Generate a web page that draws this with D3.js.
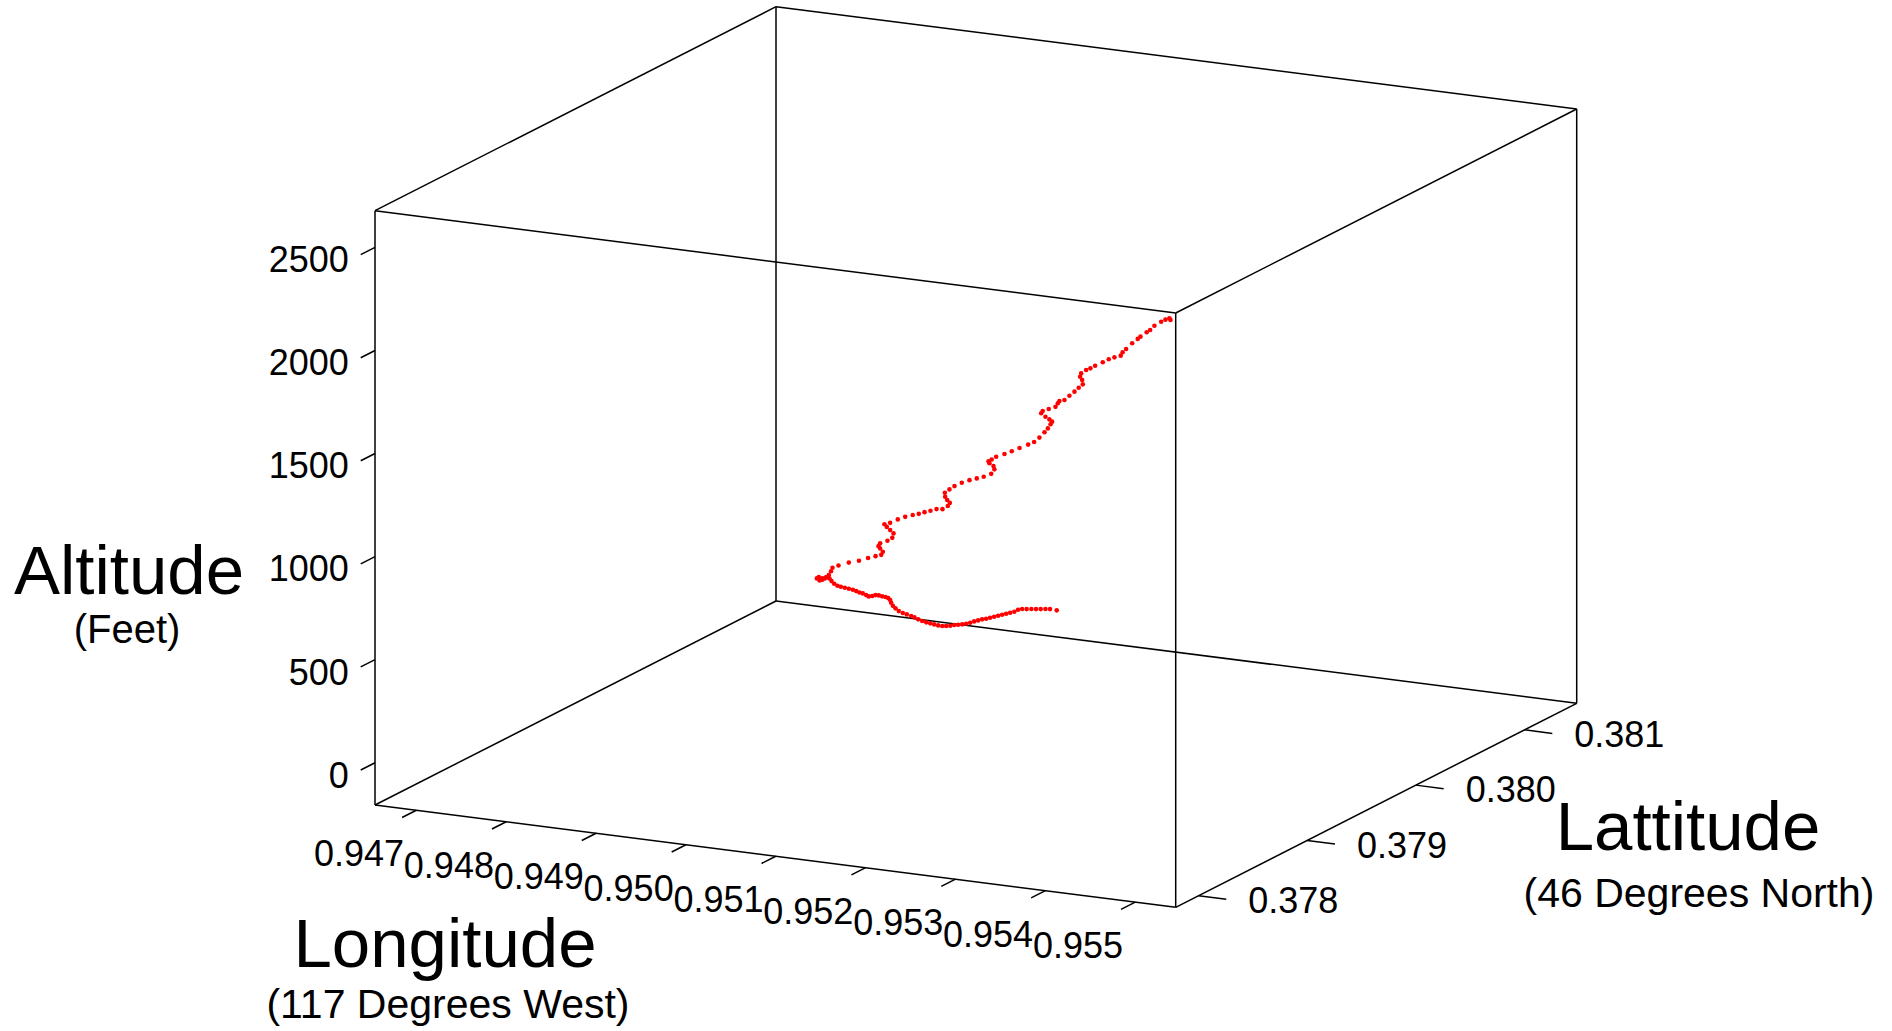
<!DOCTYPE html>
<html>
<head>
<meta charset="utf-8">
<script src="https://cdn.jsdelivr.net/npm/d3@7"></script>
<style>
  html, body { margin: 0; padding: 0; background: #fff; }
  svg { display: block; font-family: 'Liberation Sans', Arial, Helvetica, sans-serif; }
</style>
</head>
<body>
<div id="chart"></div>
<script>
// axis ranges and ticks
const lonDomain = [0.94654, 0.95545];
const latDomain = [0.37779, 0.38148];
const altDomain = [-205, 2678];

const lonTicks = [0.947, 0.948, 0.949, 0.950, 0.951, 0.952, 0.953, 0.954, 0.955];
const latTicks = [0.378, 0.379, 0.380, 0.381];
const altTicks = [0, 500, 1000, 1500, 2000, 2500];

// ground roll (fractional degrees, feet)
const groundLon = [0.952462, 0.952380, 0.952339, 0.952297, 0.952256, 0.952214, 0.952172, 0.952132, 0.952108, 0.952110,
  0.952090, 0.952072, 0.952054, 0.952035, 0.952017, 0.951999, 0.951981, 0.951956, 0.951938, 0.951920,
  0.951909, 0.951891, 0.951866, 0.951837, 0.951807, 0.951784, 0.951753, 0.951718, 0.951670, 0.951617,
  0.951564, 0.951511, 0.951453, 0.951387, 0.951319, 0.951267, 0.951199, 0.951140, 0.951070, 0.950993,
  0.950924, 0.950857, 0.950801, 0.950749, 0.950707, 0.950665, 0.950618, 0.950583, 0.950571, 0.950546,
  0.950500, 0.950441, 0.950394, 0.950342, 0.950289, 0.950236, 0.950183, 0.950130, 0.950083, 0.950019,
  0.949948, 0.949883, 0.949842, 0.949841, 0.949842, 0.949829, 0.949770, 0.949765, 0.949818, 0.949831, 0.949819];
const groundLat = [0.379166, 0.379172, 0.379164, 0.379155, 0.379146, 0.379138, 0.379129, 0.379121, 0.379103, 0.379067,
  0.379045, 0.379023, 0.379001, 0.378980, 0.378958, 0.378936, 0.378914, 0.378898, 0.378876, 0.378854,
  0.378827, 0.378805, 0.378789, 0.378776, 0.378764, 0.378747, 0.378735, 0.378728, 0.378730, 0.378737,
  0.378745, 0.378752, 0.378763, 0.378780, 0.378802, 0.378815, 0.378831, 0.378843, 0.378864, 0.378897,
  0.378930, 0.378970, 0.379007, 0.379032, 0.379042, 0.379046, 0.379054, 0.379052, 0.379032, 0.379021,
  0.379035, 0.379053, 0.379061, 0.379074, 0.379087, 0.379094, 0.379101, 0.379108, 0.379116, 0.379139,
  0.379173, 0.379208, 0.379223, 0.379199, 0.379175, 0.379161, 0.379185, 0.379207, 0.379195, 0.379221, 0.379255];
const groundAlt = [700, 700, 700, 700, 700, 700, 700, 700, 700, 700,
  700, 700, 700, 700, 700, 700, 700, 700, 700, 700,
  700, 700, 700, 700, 700, 700, 700, 700, 700, 700,
  700, 700, 700, 700, 700, 700, 700, 700, 700, 700,
  700, 700, 700, 700, 700, 700, 700, 700, 700, 700,
  700, 700, 700, 700, 700, 700, 700, 700, 700, 700,
  700, 700, 700, 700, 700, 700, 700, 700, 700, 700, 700];

// climb out
const climbLon = [0.949734, 0.949758, 0.949851, 0.950012, 0.950171, 0.950312, 0.950429, 0.950518, 0.950543, 0.950502,
  0.950476, 0.950502, 0.950616, 0.950690, 0.950710, 0.950658, 0.950605, 0.950569, 0.950658, 0.950777,
  0.950892, 0.951011, 0.951105, 0.951194, 0.951287, 0.951381, 0.951475, 0.951557, 0.951589, 0.951548,
  0.951517, 0.951511, 0.951584, 0.951662, 0.951776, 0.951896, 0.952010, 0.952119, 0.952235, 0.952286,
  0.952271, 0.952208, 0.952193, 0.952244, 0.952313, 0.952443, 0.952557, 0.952677, 0.952813, 0.952906,
  0.952989, 0.953067, 0.953119, 0.953161, 0.953187, 0.953145, 0.953083, 0.953016, 0.953040, 0.953134,
  0.953239, 0.953275, 0.953301, 0.953379, 0.953457, 0.953535, 0.953602, 0.953665, 0.953656, 0.953624,
  0.953640, 0.953718, 0.953785, 0.953858, 0.953977, 0.954071, 0.954160, 0.954258, 0.954289, 0.954342,
  0.954436, 0.954523, 0.954566, 0.954664, 0.954717, 0.954784, 0.954889, 0.954956, 0.955018, 0.955034];
const climbLat = [0.379345, 0.379339, 0.379317, 0.379279, 0.379241, 0.379208, 0.379180, 0.379159, 0.379153, 0.379162,
  0.379169, 0.379162, 0.379135, 0.379118, 0.379113, 0.379125, 0.379138, 0.379146, 0.379125, 0.379097,
  0.379070, 0.379041, 0.379019, 0.378998, 0.378976, 0.378954, 0.378931, 0.378912, 0.378904, 0.378914,
  0.378921, 0.378923, 0.378905, 0.378887, 0.378860, 0.378831, 0.378804, 0.378778, 0.378751, 0.378738,
  0.378742, 0.378757, 0.378761, 0.378748, 0.378732, 0.378701, 0.378674, 0.378646, 0.378613, 0.378591,
  0.378571, 0.378553, 0.378541, 0.378531, 0.378524, 0.378534, 0.378549, 0.378565, 0.378559, 0.378537,
  0.378512, 0.378504, 0.378497, 0.378479, 0.378460, 0.378442, 0.378426, 0.378411, 0.378413, 0.378420,
  0.378417, 0.378398, 0.378382, 0.378365, 0.378337, 0.378314, 0.378293, 0.378270, 0.378262, 0.378250,
  0.378228, 0.378207, 0.378197, 0.378173, 0.378161, 0.378145, 0.378120, 0.378104, 0.378089, 0.378086];
const climbAlt = [690, 710, 732, 765, 793, 823, 846, 863, 881, 892,
  900, 917, 943, 966, 990, 1000, 1009, 1018, 1035, 1066,
  1092, 1115, 1132, 1151, 1169, 1188, 1199, 1224, 1243, 1252,
  1264, 1283, 1308, 1333, 1363, 1390, 1412, 1433, 1461, 1489,
  1503, 1509, 1517, 1532, 1553, 1582, 1609, 1639, 1672, 1696,
  1727, 1762, 1787, 1812, 1828, 1834, 1839, 1848, 1862, 1883,
  1906, 1927, 1942, 1956, 1986, 2015, 2042, 2066, 2086, 2098,
  2116, 2142, 2158, 2179, 2210, 2236, 2256, 2276, 2296, 2318,
  2357, 2389, 2405, 2438, 2455, 2484, 2516, 2534, 2548, 2542];

const width = 1892;
const height = 1031;

// oblique box: origin is (lon min, lat min, alt min), one screen vector per axis
const origin = { x: 375, y: 805 };
const vLon = { x: 800.7, y: 102.3 };
const vLat = { x: 401, y: -204 };
const vAlt = { x: 0, y: -594.3 };

const lonScale = d3.scaleLinear().domain(lonDomain).range([0, 1]);
const latScale = d3.scaleLinear().domain(latDomain).range([0, 1]);
const altScale = d3.scaleLinear().domain(altDomain).range([0, 1]);

function project(lon, lat, alt) {
  const a = lonScale(lon), b = latScale(lat), c = altScale(alt);
  return [
    origin.x + a * vLon.x + b * vLat.x + c * vAlt.x,
    origin.y + a * vLon.y + b * vLat.y + c * vAlt.y
  ];
}

function unit(v, len) {
  const l = Math.hypot(v.x, v.y);
  return { x: v.x / l * len, y: v.y / l * len };
}

const svg = d3.select('#chart')
  .append('svg')
  .attr('width', width)
  .attr('height', height);

svg.append('rect')
  .attr('width', width)
  .attr('height', height)
  .attr('fill', '#fff');

// box edges
const [lo0, lo1] = lonDomain, [la0, la1] = latDomain, [al0, al1] = altDomain;
const edges = [
  [[lo0, la0, al0], [lo1, la0, al0]], [[lo0, la1, al0], [lo1, la1, al0]],
  [[lo0, la0, al1], [lo1, la0, al1]], [[lo0, la1, al1], [lo1, la1, al1]],
  [[lo0, la0, al0], [lo0, la1, al0]], [[lo1, la0, al0], [lo1, la1, al0]],
  [[lo0, la0, al1], [lo0, la1, al1]], [[lo1, la0, al1], [lo1, la1, al1]],
  [[lo0, la0, al0], [lo0, la0, al1]], [[lo1, la0, al0], [lo1, la0, al1]],
  [[lo0, la1, al0], [lo0, la1, al1]], [[lo1, la1, al0], [lo1, la1, al1]]
];

svg.append('g')
  .selectAll('line')
  .data(edges)
  .enter()
  .append('line')
  .attr('x1', d => project(...d[0])[0])
  .attr('y1', d => project(...d[0])[1])
  .attr('x2', d => project(...d[1])[0])
  .attr('y2', d => project(...d[1])[1])
  .attr('stroke', '#000')
  .attr('stroke-width', 1.5);

// ticks
const backTick = unit({ x: -vLat.x, y: -vLat.y }, 16);
const sideTick = unit(vLon, 28);
const fmt3 = d3.format('.3f');

function drawAxis(values, pointFn, tick, label) {
  const g = svg.append('g');
  values.forEach(v => {
    const p = pointFn(v);
    const e = [p[0] + tick.x, p[1] + tick.y];
    g.append('line')
      .attr('x1', p[0]).attr('y1', p[1])
      .attr('x2', e[0]).attr('y2', e[1])
      .attr('stroke', '#000')
      .attr('stroke-width', 1.5);
    g.append('text')
      .attr('x', e[0] + label.dx)
      .attr('y', e[1] + label.dy)
      .attr('dy', '0.35em')
      .attr('text-anchor', label.anchor)
      .attr('font-size', 36)
      .attr('fill', '#000')
      .text(label.format(v));
  });
}

drawAxis(altTicks, v => project(lo0, la0, v), backTick,
  { dx: -12, dy: 5, anchor: 'end', format: d => String(d) });
drawAxis(lonTicks, v => project(v, la0, al0), backTick,
  { dx: 2, dy: 36, anchor: 'end', format: fmt3 });
drawAxis(latTicks, v => project(lo1, v, al0), sideTick,
  { dx: 22, dy: 1, anchor: 'start', format: fmt3 });

// axis titles
const titles = [
  { text: 'Altitude', x: 129, y: 594, size: 69 },
  { text: '(Feet)', x: 127, y: 643, size: 40 },
  { text: 'Longitude', x: 445, y: 967, size: 69 },
  { text: '(117 Degrees West)', x: 448, y: 1018, size: 41 },
  { text: 'Lattitude', x: 1688, y: 850, size: 69 },
  { text: '(46 Degrees North)', x: 1699, y: 907, size: 41 }
];

svg.append('g')
  .selectAll('text')
  .data(titles)
  .enter()
  .append('text')
  .attr('x', d => d.x)
  .attr('y', d => d.y)
  .attr('text-anchor', 'middle')
  .attr('font-size', d => d.size)
  .attr('fill', '#000')
  .text(d => d.text);

// flight track
const track = groundLon.map((d, i) => [d, groundLat[i], groundAlt[i]])
  .concat(climbLon.map((d, i) => [d, climbLat[i], climbAlt[i]]));

svg.append('g')
  .selectAll('circle')
  .data(track)
  .enter()
  .append('circle')
  .attr('cx', d => project(...d)[0])
  .attr('cy', d => project(...d)[1])
  .attr('r', 2.3)
  .attr('fill', '#ff0000');
</script>
</body>
</html>
